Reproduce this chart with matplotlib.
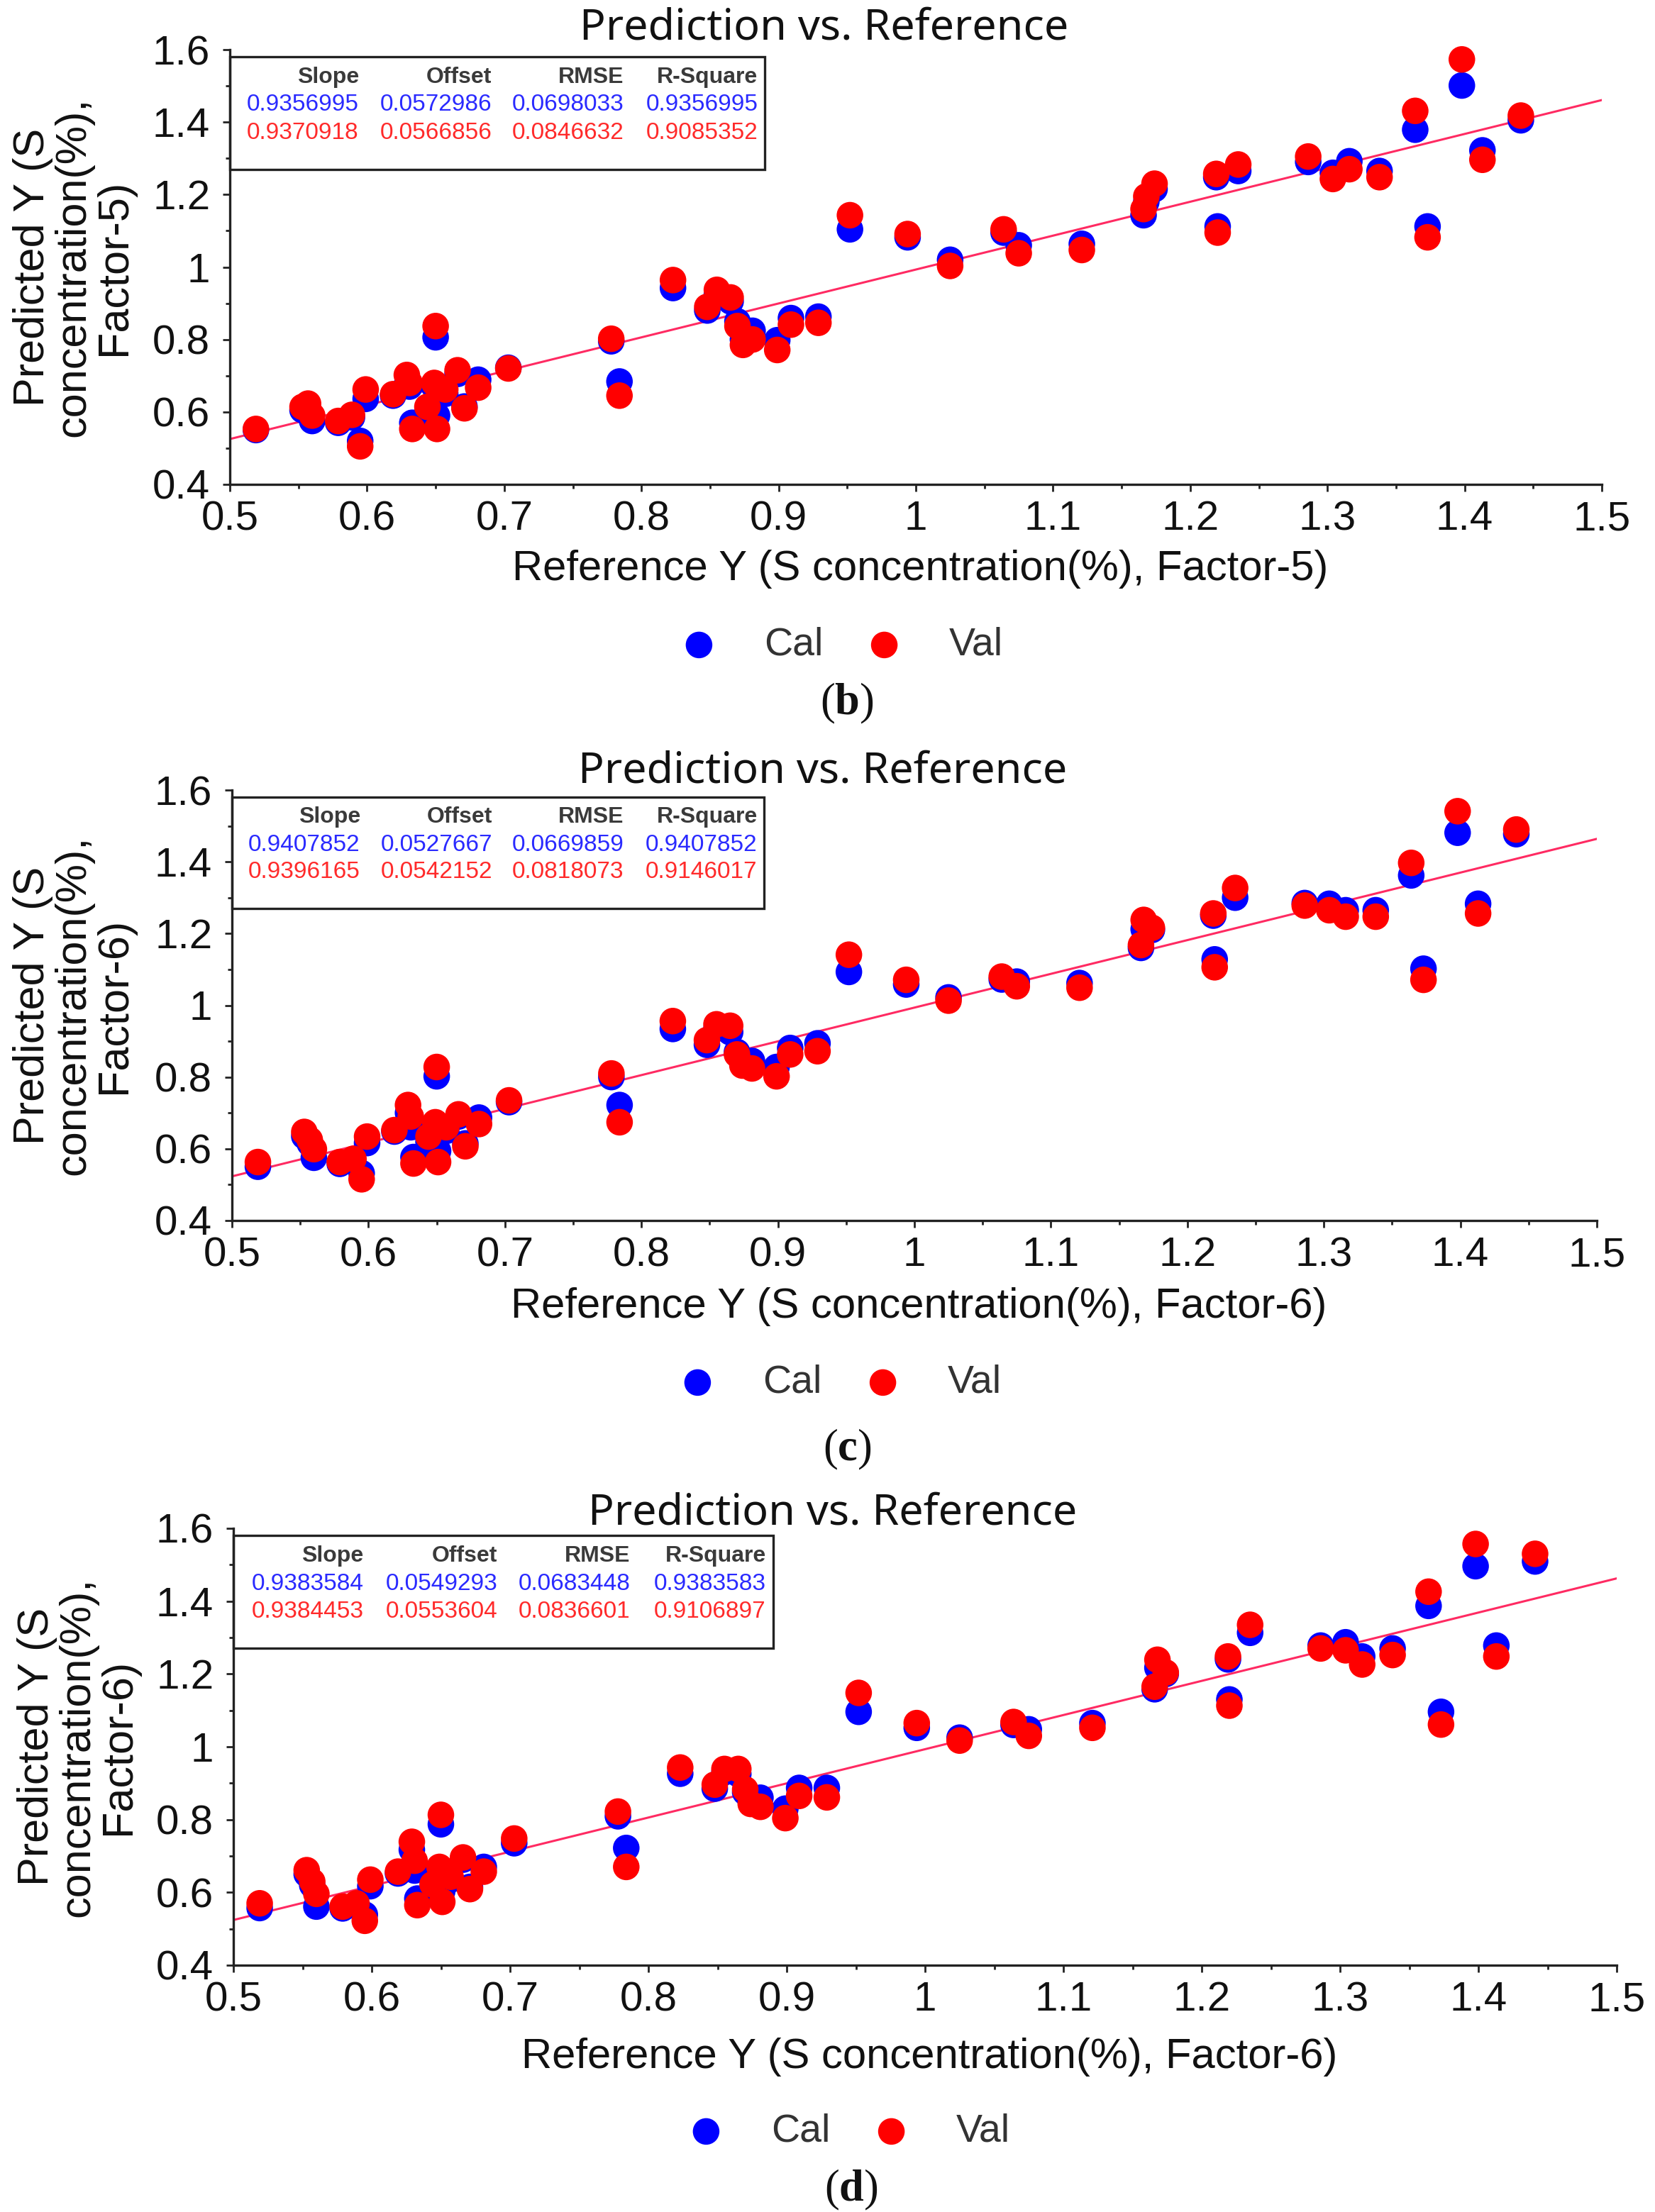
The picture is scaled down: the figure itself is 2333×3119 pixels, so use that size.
import matplotlib
matplotlib.use("Agg")
import matplotlib.pyplot as plt
from matplotlib.patches import Rectangle
from matplotlib.ticker import MultipleLocator, FuncFormatter

plt.rcParams['font.family'] = ['Liberation Sans', 'DejaVu Sans']
plt.rcParams['mathtext.fontset'] = 'custom'
plt.rcParams['mathtext.rm'] = 'Liberation Serif'
plt.rcParams['mathtext.bf'] = 'Liberation Serif:bold'

W, H = 2333, 3119

# ---- data -----------------------------------------------------------------
ref_y = [0.519, 0.553, 0.557, 0.560, 0.579, 0.589, 0.595, 0.599, 0.619, 0.629,
         0.631, 0.633, 0.644, 0.649, 0.650, 0.651, 0.657, 0.666, 0.671, 0.681,
         0.703, 0.778, 0.784, 0.823, 0.848, 0.855, 0.865, 0.870, 0.874, 0.881,
         0.899, 0.909, 0.929, 0.952, 0.994, 1.025, 1.064, 1.075, 1.121, 1.166,
         1.168, 1.174, 1.219, 1.220, 1.235, 1.286, 1.304, 1.316, 1.338, 1.364,
         1.373, 1.398, 1.413, 1.441]

cal_b = [0.550, 0.605, 0.610, 0.575, 0.570, 0.585, 0.520, 0.636, 0.645, 0.675,
         0.670, 0.570, 0.600, 0.670, 0.806, 0.590, 0.650, 0.705, 0.615, 0.689,
         0.722, 0.795, 0.684, 0.942, 0.880, 0.925, 0.905, 0.850, 0.800, 0.824,
         0.798, 0.859, 0.863, 1.104, 1.082, 1.020, 1.095, 1.060, 1.064, 1.143,
         1.180, 1.215, 1.248, 1.112, 1.265, 1.290, 1.260, 1.292, 1.265, 1.379,
         1.112, 1.501, 1.322, 1.405]
val_b = [0.553, 0.614, 0.623, 0.590, 0.575, 0.592, 0.505, 0.662, 0.649, 0.702,
         0.680, 0.553, 0.614, 0.680, 0.837, 0.553, 0.662, 0.715, 0.610, 0.667,
         0.720, 0.802, 0.645, 0.964, 0.890, 0.937, 0.916, 0.837, 0.785, 0.800,
         0.771, 0.841, 0.846, 1.143, 1.091, 1.003, 1.104, 1.038, 1.047, 1.160,
         1.195, 1.230, 1.257, 1.095, 1.283, 1.305, 1.243, 1.270, 1.248, 1.431,
         1.082, 1.573, 1.296, 1.418]

cal_c = [0.550, 0.635, 0.615, 0.575, 0.558, 0.565, 0.532, 0.616, 0.648, 0.700,
         0.660, 0.577, 0.620, 0.660, 0.802, 0.594, 0.650, 0.690, 0.615, 0.687,
         0.730, 0.800, 0.722, 0.934, 0.890, 0.935, 0.925, 0.870, 0.840, 0.845,
         0.828, 0.881, 0.894, 1.093, 1.058, 1.022, 1.072, 1.066, 1.062, 1.160,
         1.212, 1.210, 1.250, 1.128, 1.300, 1.285, 1.283, 1.265, 1.265, 1.362,
         1.102, 1.481, 1.283, 1.477]
val_c = [0.563, 0.647, 0.625, 0.599, 0.563, 0.572, 0.515, 0.634, 0.652, 0.722,
         0.690, 0.559, 0.634, 0.674, 0.828, 0.563, 0.660, 0.696, 0.607, 0.669,
         0.735, 0.810, 0.674, 0.956, 0.903, 0.947, 0.943, 0.863, 0.832, 0.824,
         0.802, 0.863, 0.872, 1.141, 1.071, 1.013, 1.080, 1.053, 1.049, 1.168,
         1.238, 1.216, 1.256, 1.106, 1.327, 1.278, 1.265, 1.247, 1.247, 1.397,
         1.071, 1.541, 1.256, 1.490]

cal_d = [0.557, 0.650, 0.620, 0.561, 0.556, 0.562, 0.539, 0.617, 0.652, 0.717,
         0.660, 0.583, 0.610, 0.660, 0.787, 0.604, 0.635, 0.690, 0.615, 0.670,
         0.735, 0.809, 0.722, 0.926, 0.885, 0.930, 0.925, 0.875, 0.850, 0.860,
         0.830, 0.887, 0.887, 1.096, 1.052, 1.025, 1.060, 1.048, 1.065, 1.158,
         1.217, 1.200, 1.240, 1.130, 1.313, 1.278, 1.287, 1.248, 1.270, 1.387,
         1.096, 1.496, 1.278, 1.509]
val_d = [0.570, 0.661, 0.630, 0.596, 0.561, 0.570, 0.522, 0.635, 0.657, 0.739,
         0.687, 0.565, 0.622, 0.670, 0.813, 0.574, 0.643, 0.696, 0.609, 0.657,
         0.748, 0.822, 0.670, 0.943, 0.896, 0.939, 0.939, 0.883, 0.843, 0.835,
         0.804, 0.865, 0.861, 1.148, 1.065, 1.017, 1.068, 1.030, 1.052, 1.165,
         1.239, 1.204, 1.248, 1.113, 1.335, 1.270, 1.265, 1.226, 1.252, 1.426,
         1.061, 1.557, 1.248, 1.530]

stats_header = ["Slope", "Offset", "RMSE", "R-Square"]
stats_cal_b = ["0.9356995", "0.0572986", "0.0698033", "0.9356995"]
stats_val_b = ["0.9370918", "0.0566856", "0.0846632", "0.9085352"]
stats_cal_c = ["0.9407852", "0.0527667", "0.0669859", "0.9407852"]
stats_val_c = ["0.9396165", "0.0542152", "0.0818073", "0.9146017"]
stats_cal_d = ["0.9383584", "0.0549293", "0.0683448", "0.9383583"]
stats_val_d = ["0.9384453", "0.0553604", "0.0836601", "0.9106897"]

factors = ["Factor-5", "Factor-6", "Factor-6"]
tags = ["b", "c", "d"]
series_labels = ["Cal", "Val"]

panels = [
    (cal_b, val_b, stats_cal_b, stats_val_b),
    (cal_c, val_c, stats_cal_c, stats_val_c),
    (cal_d, val_d, stats_cal_d, stats_val_d),
]

# ---- layout (pixels from top-left) ----------------------------------------
axes_px = [(324, 70, 2258, 683), (327, 1114, 2251, 1721), (329, 2155, 2279, 2771)]
title_px = [(1162, 40), (1160, 1088), (1174, 2134)]
ylabel_px = [104, 104, 110]
xlabel_px = [(1297, 802), (1295, 1842), (1310, 2900)]
legend_px = [(1186, 910), (1184, 1950), (1196, 3006)]
caption_px = [(1194, 992), (1194, 2044), (1200, 3088)]

BLUE = '#0000ff'
RED = '#ff0000'
LINE = '#ff2a62'
MS = 27  # marker diameter in points


def fx(x):
    return x / W


def fy(y):
    return 1 - y / H


fig = plt.figure(figsize=(W / 100, H / 100), dpi=100)

for i, (cal, val, st_cal, st_val) in enumerate(panels):
    l, t, r, b = axes_px[i]
    ax = fig.add_axes([fx(l), fy(b), fx(r) - fx(l), fy(t) - fy(b)])
    ax.set_xlim(0.5, 1.5)
    ax.set_ylim(0.4, 1.6)

    # regression line from the Cal slope / offset
    slope, offset = float(st_cal[0]), float(st_cal[1])
    xs = [0.5, 1.5]
    ax.plot(xs, [offset + slope * v for v in xs], color=LINE, lw=2.2, zorder=1)

    h_cal = ax.scatter(ref_y, cal, s=MS ** 2, color=BLUE, edgecolors='none',
                       zorder=2, clip_on=False)
    h_val = ax.scatter(ref_y, val, s=MS ** 2, color=RED, edgecolors='none',
                       zorder=3, clip_on=False)

    for side in ('top', 'right'):
        ax.spines[side].set_visible(False)
    for side in ('left', 'bottom'):
        ax.spines[side].set_linewidth(2.4)
        ax.spines[side].set_color('#222222')

    ax.xaxis.set_major_locator(MultipleLocator(0.1))
    ax.xaxis.set_minor_locator(MultipleLocator(0.05))
    ax.yaxis.set_major_locator(MultipleLocator(0.2))
    ax.yaxis.set_minor_locator(MultipleLocator(0.1))
    fmt = FuncFormatter(lambda v, p: f"{round(v, 2):g}")
    ax.xaxis.set_major_formatter(fmt)
    ax.yaxis.set_major_formatter(fmt)
    ax.tick_params(which='major', direction='out', length=7, width=2,
                   labelsize=42, color='#222222', labelcolor='#111111')
    ax.tick_params(which='minor', direction='out', length=4, width=2,
                   color='#222222')
    ax.tick_params(axis='y', which='major', pad=13)
    ax.tick_params(axis='x', which='major', pad=9)

    # statistics table
    ax.add_patch(Rectangle((0.0, 0.725), 0.39, 0.258, transform=ax.transAxes,
                           fill=False, edgecolor='#222222', lw=2.4, zorder=4,
                           clip_on=False))
    col_x = [0.094, 0.191, 0.287, 0.385]
    for j in range(4):
        ax.text(col_x[j], 0.937, stats_header[j], transform=ax.transAxes,
                ha='right', va='center', fontsize=23, fontweight='bold',
                color='#3a3a3a', zorder=5)
        ax.text(col_x[j], 0.873, st_cal[j], transform=ax.transAxes,
                ha='right', va='center', fontsize=24, color='#2a2aff', zorder=5)
        ax.text(col_x[j], 0.809, st_val[j], transform=ax.transAxes,
                ha='right', va='center', fontsize=24, color='#ff2a2a', zorder=5)

    fig.text(fx(title_px[i][0]), fy(title_px[i][1]), "Prediction vs. Reference",
             ha='center', va='center', fontsize=44, family='Noto Sans',
             color='#111111')
    fig.text(fx(ylabel_px[i]), fy((t + b) / 2),
             f"Predicted Y (S\nconcentration(%),\n{factors[i]})",
             rotation=90, ha='center', va='center', multialignment='center',
             fontsize=44, linespacing=1.02, color='#111111')
    fig.text(fx(xlabel_px[i][0]), fy(xlabel_px[i][1]),
             f"Reference Y (S concentration(%), {factors[i]})",
             ha='center', va='center', fontsize=43, color='#111111')

    ax.legend([h_cal, h_val], series_labels, loc='center',
              bbox_to_anchor=(fx(legend_px[i][0]), fy(legend_px[i][1])),
              bbox_transform=fig.transFigure, ncol=2, frameon=False,
              fontsize=40, handlelength=1.0, handletextpad=1.15,
              columnspacing=1.05, borderpad=0, labelcolor='#333333')

    fig.text(fx(caption_px[i][0]), fy(caption_px[i][1]),
             r"($\mathbf{" + tags[i] + r"}$)", ha='center', va='center',
             fontsize=45, family='Liberation Serif', color='#111111')

fig.savefig("out.png", dpi=100, facecolor='white')
